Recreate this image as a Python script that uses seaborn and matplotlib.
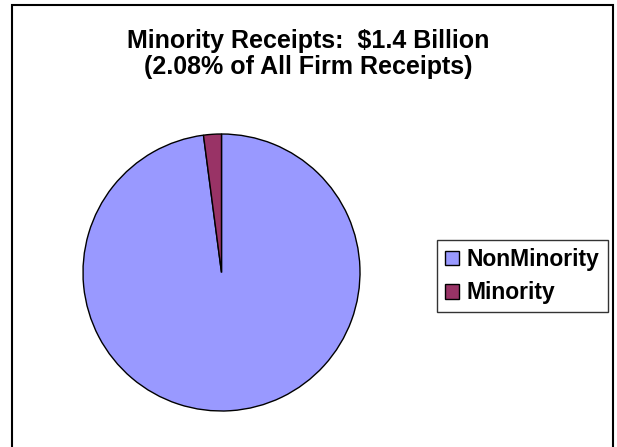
import matplotlib
matplotlib.use("Agg")
import matplotlib.pyplot as plt
import seaborn as sns
from matplotlib.patches import Rectangle

# Data
labels = ["NonMinority", "Minority"]
shares = [97.92, 2.08]
colors = ["#9999FF", "#993366"]
title = "Minority Receipts:  $1.4 Billion\n(2.08% of All Firm Receipts)"

sns.set_theme(style="white")
plt.rcParams['font.family'] = ['Liberation Sans', 'DejaVu Sans']
plt.rcParams['text.color'] = 'black'

W, H = 617, 447
fig = plt.figure(figsize=(W / 100, H / 100), dpi=100)
fig.patch.set_facecolor("white")

# outer frame
fig.patches.append(Rectangle((12 / W, -0.05), (613 - 12) / W, 1.05 - 5 / H,
                             transform=fig.transFigure, fill=False,
                             edgecolor="black", linewidth=1.5))

# pie axes: centre (221.5, 272.5), radius 138.5 px
r = 138.5
cx, cy = 221.5, 272.5
ax = fig.add_axes([(cx - r) / W, 1 - (cy + r) / H, 2 * r / W, 2 * r / H])
wedges, _ = ax.pie(shares, colors=colors, startangle=90, counterclock=False,
                   wedgeprops=dict(edgecolor="black", linewidth=1.0))
ax.set_aspect("equal")
ax.set_xlim(-1, 1)
ax.set_ylim(-1, 1)

fig.text(0.5, 1 - 54 / H, title, ha="center", va="center", fontsize=18,
         fontweight="bold", linespacing=1.1, color="black")

leg = fig.legend(wedges, labels, loc="upper left",
                 bbox_to_anchor=(437 / W, 1 - 240 / H),
                 prop=dict(size=16.5, weight="bold"), frameon=True,
                 fancybox=False, edgecolor="black", handlelength=0.6,
                 handleheight=0.6, handletextpad=0.35, borderpad=0.35,
                 labelspacing=0.45, borderaxespad=0)
leg.get_frame().set_linewidth(1.0)
for t in leg.get_texts():
    t.set_color("black")

fig.savefig("out.png", dpi=100, facecolor="white")
